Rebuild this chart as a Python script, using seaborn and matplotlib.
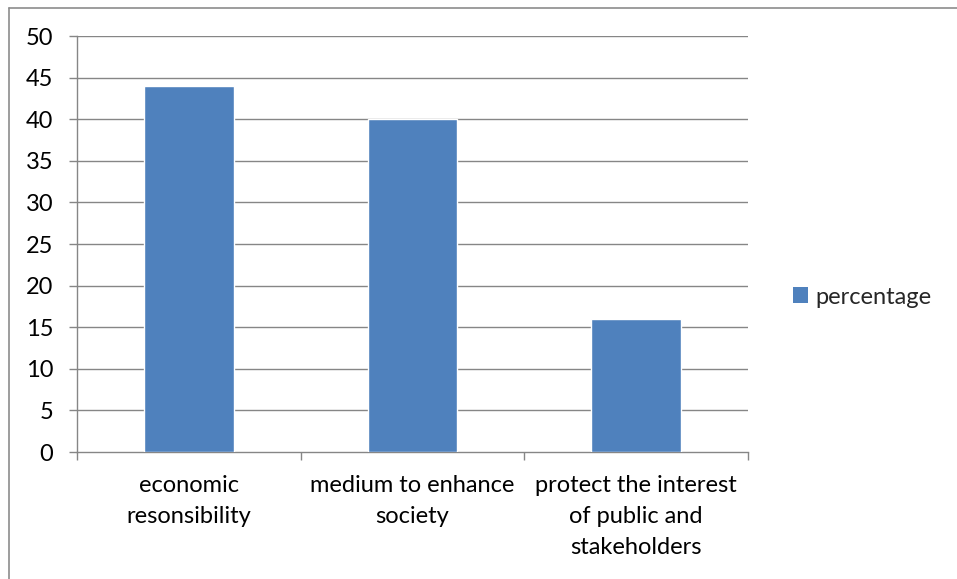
import matplotlib
matplotlib.use("Agg")
import matplotlib.pyplot as plt
from matplotlib.lines import Line2D
from matplotlib.patches import Patch
import seaborn as sns
import pandas as pd

categories = ["economic\nresonsibility", "medium to enhance\nsociety",
              "protect the interest\nof public and\nstakeholders"]
values = [44, 40, 16]
series_name = "percentage"
y_ticks = [0, 5, 10, 15, 20, 25, 30, 35, 40, 45, 50]

bar_color = "#4F81BD"
grid_color = "#868686"
fsize = 17

sns.set_theme(style="white")
plt.rcParams["font.family"] = ["Lato", "DejaVu Sans"]

df = pd.DataFrame({"category": categories, "value": values})

fig = plt.figure(figsize=(9.57, 5.79), dpi=100)
ax = fig.add_axes([0.0805, 0.2193, 0.7011, 0.7185])

sns.barplot(data=df, x="category", y="value", color=bar_color, width=0.4,
            saturation=1, ax=ax, zorder=3)

ax.set_ylim(0, 50)
ax.set_xlim(-0.5, len(categories) - 0.5)
ax.set_yticks(y_ticks)
ax.set_yticklabels([str(t) for t in y_ticks], fontsize=fsize, color="black")
ax.set_xlabel("")
ax.set_ylabel("")

# horizontal gridlines
for t in y_ticks[1:]:
    ax.axhline(t, color=grid_color, lw=1, zorder=1)

for s in ["top", "right"]:
    ax.spines[s].set_visible(False)
for s in ["left", "bottom"]:
    ax.spines[s].set_color(grid_color)
    ax.spines[s].set_linewidth(1)

ax.tick_params(axis="y", length=6, width=1, color=grid_color, pad=11, left=True)

# category boundary ticks on the x axis
ax.set_xticks([i - 0.5 for i in range(len(categories) + 1)], minor=False)
ax.set_xticklabels([""] * (len(categories) + 1))
ax.tick_params(axis="x", length=6, width=1, color=grid_color, bottom=True)
for i, lab in enumerate(categories):
    ax.text(i, -2.8, lab, ha="center", va="top", fontsize=fsize,
            linespacing=1.57, color="black")

fig.legend(handles=[Patch(facecolor=bar_color, edgecolor="none", label=series_name)],
           loc="center left", bbox_to_anchor=(0.806, 0.487), frameon=False,
           fontsize=fsize, handlelength=0.65, handleheight=0.65, handletextpad=0.3)

# outer chart border (left and top)
fig.add_artist(Line2D([8.5 / 957, 8.5 / 957], [0, 1 - 7.5 / 579],
                      color="#8c8c8c", lw=1.2, transform=fig.transFigure))
fig.add_artist(Line2D([8.5 / 957, 1], [1 - 7.5 / 579, 1 - 7.5 / 579],
                      color="#8c8c8c", lw=1.2, transform=fig.transFigure))

fig.savefig("out.png", dpi=100)
